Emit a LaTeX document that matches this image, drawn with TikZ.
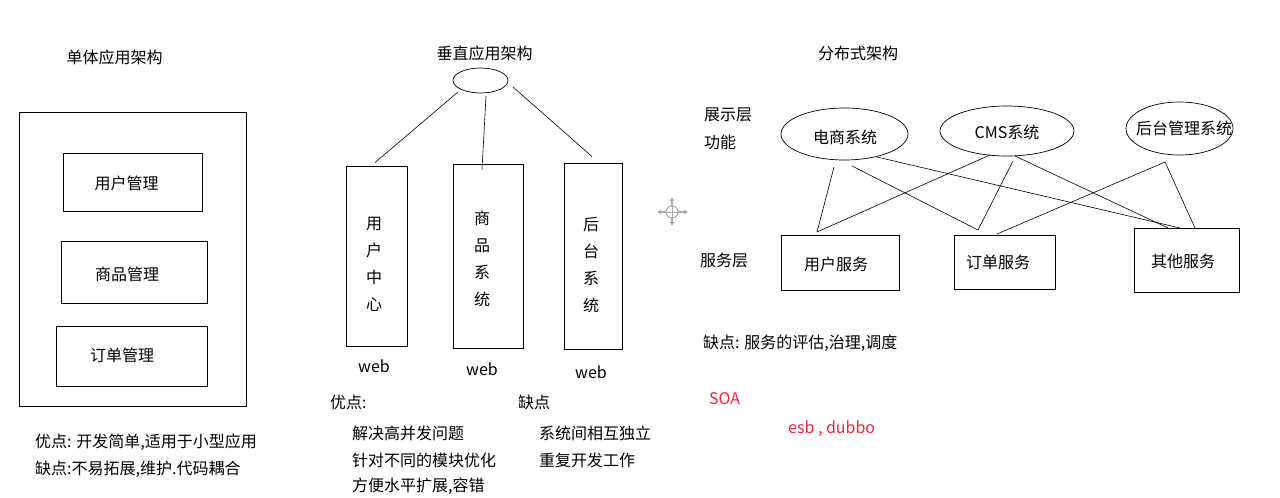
\documentclass[tikz,border=0pt]{standalone}
\usepackage{fontspec}
\setmainfont{Noto Sans CJK SC}
\usetikzlibrary{shapes.geometric,calc,arrows.meta}
\definecolor{soared}{RGB}{250,35,60}
\begin{document}
\begin{tikzpicture}[x=1pt,y=-1pt,
  bx/.style={draw,rectangle,line width=0.9pt,inner sep=0pt},
  ell/.style={draw,ellipse,line width=0.7pt,inner sep=0pt},
  txt/.style={font=\fontsize{16}{19}\selectfont,inner sep=0pt},
  lt/.style={txt,anchor=west},
  vt/.style={font=\fontsize{16}{27}\selectfont,inner sep=0pt,align=center},
  ln/.style={line width=0.6pt}]
\useasboundingbox (0,0) rectangle (1280,498);
\fill[white] (0,0) rectangle (1280,498);

% ---------- left: monolith ----------
\node[txt] (t1) at (114.5,57) {单体应用架构};
\node[bx,minimum width=227pt,minimum height=294pt] (mono) at (132.5,259) {};
\node[bx,minimum width=139pt,minimum height=58pt] (um) at (132.5,182) {};
\node[txt] (umt) at (126.5,183) {用户管理};
\node[bx,minimum width=146pt,minimum height=62pt] (gm) at (134,272) {};
\node[txt] (gmt) at (127,274) {商品管理};
\node[bx,minimum width=151pt,minimum height=60pt] (om) at (131.5,356) {};
\node[txt] (omt) at (122,355) {订单管理};
\node[lt] (lp) at (35,442) {优点: 开发简单,适用于小型应用};
\node[lt] (lc) at (35,469) {缺点:不易拓展,维护.代码耦合};

% ---------- middle: vertical ----------
\node[txt] (t2) at (484.5,53) {垂直应用架构};
\node[ell,minimum width=55pt,minimum height=25pt] (top) at (480.5,80.5) {};
\node[bx,minimum width=61pt,minimum height=180pt] (v1) at (376.5,256) {};
\node[bx,minimum width=70pt,minimum height=184pt] (v2) at (488,256) {};
\node[bx,minimum width=58pt,minimum height=186pt] (v3) at (593,256) {};
\node[vt] (v1t) at (374,264.5) {用\\户\\中\\心};
\node[vt] (v2t) at (482,258.5) {商\\品\\系\\统};
\node[vt] (v3t) at (591,265) {后\\台\\系\\统};
\node[txt] (w1) at (374,366) {web};
\node[txt] (w2) at (482,369) {web};
\node[txt] (w3) at (591,372) {web};
\draw[ln] ($(top.center)+(-22.5,11.5)$) -- ($(v1.north)+(-1.5,-3)$);
\draw[ln] ($(top.center)+(5.5,15.5)$) -- ($(v2.north)+(-6,6)$);
\draw[ln] ($(top.center)+(32.5,6.5)$) -- ($(v3.north)+(-1,-6)$);
\node[lt] (mp) at (330,402) {优点:};
\node[lt] (mc) at (518,402) {缺点};
\node[lt] (mp1) at (352,433) {解决高并发问题};
\node[lt] (mp2) at (352,460) {针对不同的模块优化};
\node[lt] (mp3) at (352,486) {方便水平扩展,容错};
\node[lt] (mc1) at (539,433) {系统间相互独立};
\node[lt] (mc2) at (539,460) {重复开发工作};

% ---------- move icon ----------
\coordinate (ic) at (672,212);
\begin{scope}[draw=gray!65,line width=1.1pt]
\draw (ic) circle (6);
\draw[line width=0.8pt] ($(ic)+(-6,0)$) -- ($(ic)+(6,0)$) ($(ic)+(0,-6)$) -- ($(ic)+(0,6)$);
\draw[-{Latex[length=4pt,width=5pt]}] ($(ic)+(0,-6)$) -- ($(ic)+(0,-15)$);
\draw[-{Latex[length=4pt,width=5pt]}] ($(ic)+(0,6)$) -- ($(ic)+(0,14)$);
\draw[-{Latex[length=4pt,width=5pt]}] ($(ic)+(-6,0)$) -- ($(ic)+(-15,0)$);
\draw[-{Latex[length=4pt,width=5pt]}] ($(ic)+(6,0)$) -- ($(ic)+(16,0)$);
\end{scope}

% ---------- right: distributed ----------
\node[txt] (t3) at (858,53) {分布式架构};
\node[lt] (l1) at (704,115) {展示层};
\node[lt] (l2) at (704,142) {功能};
\node[lt] (l3) at (700,260) {服务层};
\node[ell,minimum width=127pt,minimum height=52pt] (ds) at (844.5,134) {};
\node[txt] (dst) at (845,137) {电商系统};
\node[ell,minimum width=134pt,minimum height=50pt] (cms) at (1007,131) {};
\node[txt] (cmst) at (1007,132) {CMS系统};
\node[ell,minimum width=107pt,minimum height=53pt] (ht) at (1179.5,128.5) {};
\node[txt] (htt) at (1184,128) {后台管理系统};
\node[bx,minimum width=118pt,minimum height=55pt] (us) at (840,262.5) {};
\node[txt] (ust) at (836,264) {用户服务};
\node[bx,minimum width=101pt,minimum height=54pt] (os) at (1004.5,262) {};
\node[txt] (ost) at (998,262) {订单服务};
\node[bx,minimum width=105pt,minimum height=64pt] (qs) at (1186.5,260) {};
\node[txt] (qst) at (1183,261) {其他服务};
\draw[ln] ($(ds.center)+(-10.5,33)$) -- ($(us.center)+(-23,-30.5)$);
\draw[ln] ($(ds.center)+(7.5,32)$) -- ($(os.center)+(-26.5,-32)$);
\draw[ln] ($(ds.center)+(32.5,23)$) -- ($(qs.center)+(-6.5,-32)$);
\draw[ln] ($(cms.center)+(-17,24)$) -- ($(us.center)+(-23,-30.5)$);
\draw[ln] ($(cms.center)+(6,30)$) -- ($(os.center)+(-26.5,-32)$);
\draw[ln] ($(cms.center)+(8,25)$) -- ($(qs.center)+(-18.5,-32)$);
\draw[ln] ($(ht.center)+(-14.5,33.5)$) -- ($(os.center)+(-7.5,-28)$);
\draw[ln] ($(ht.center)+(-14.5,33.5)$) -- ($(qs.center)+(8.5,-32)$);
\node[lt] (rc) at (703,343) {缺点: 服务的评估,治理,调度};
\node[lt,text=soared] (soa) at (709,399) {SOA};
\node[lt,text=soared] (esb) at (788,429) {esb , dubbo};
\end{tikzpicture}
\end{document}
